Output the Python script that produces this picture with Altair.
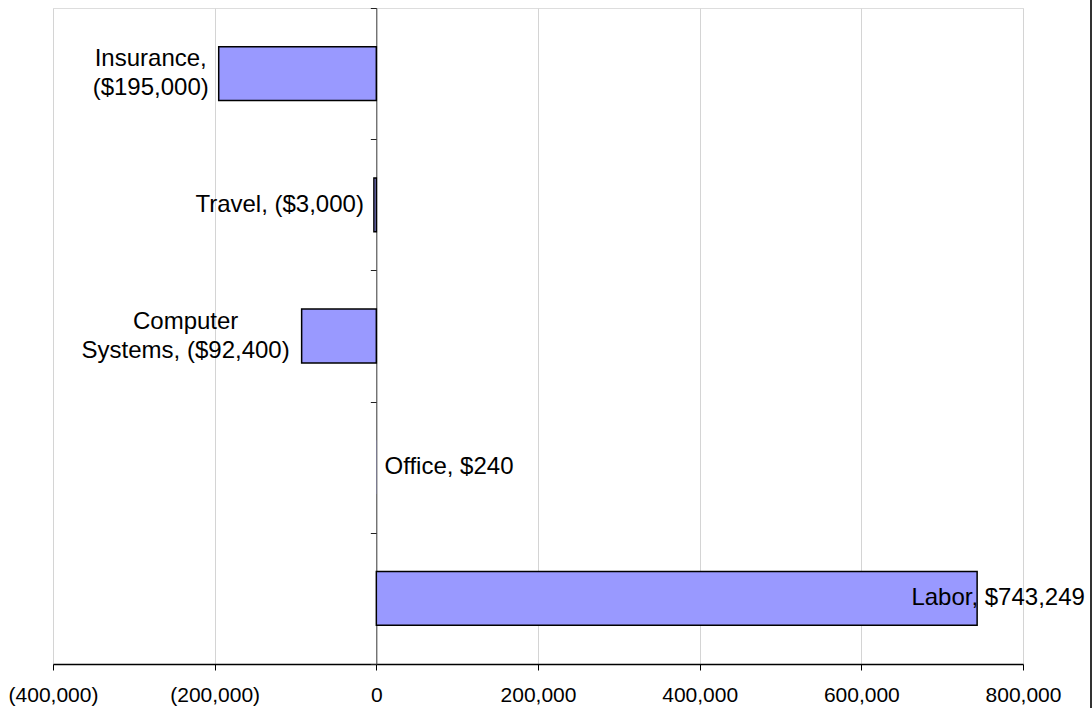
import altair as alt
import pandas as pd

categories = ["Labor", "Office", "Computer Systems", "Travel", "Insurance"]
values = [743249, 240, -92400, -3000, -195000]
labels = ["Labor, $743,249", "Office, $240", "Computer\nSystems, ($92,400)",
          "Travel, ($3,000)", "Insurance,\n($195,000)"]
x_ticks = [-400000, -200000, 0, 200000, 400000, 600000, 800000]

W, H = 970, 656
LEFT, TOP = 53, 8
FONT = "Liberation Sans"

df = pd.DataFrame({"category": categories, "value": values, "label": labels})
order = categories[::-1]

xscale = alt.Scale(domain=[-400000, 800000], nice=False, zero=False)
yscale = alt.Scale(domain=order, paddingInner=0, paddingOuter=0)

x_axis = alt.Axis(
    values=x_ticks,
    labelExpr="datum.value < 0 ? '(' + format(-datum.value, ',') + ')' : format(datum.value, ',')",
    title=None, grid=True, gridColor="#d4d4d4", gridWidth=1,
    domainColor="#000", domainWidth=1.5, tickColor="#000", tickSize=6, tickWidth=1,
    labelFont=FONT, labelFontSize=21, labelColor="#000", labelPadding=14,
    labelFlush=False, labelOverlap=False,
)
y_axis = alt.Axis(
    labels=False, title=None, grid=False, ticks=True, tickSize=6, tickBand="extent",
    domainColor="#444", domainWidth=1, tickColor="#222", tickWidth=1,
    offset=-W / 3,
)

base = alt.Chart(df)

bars = base.mark_bar(
    fill="#9999ff", stroke="#000", strokeWidth=1.5, height=alt.RelativeBandSize(0.41)
).encode(
    x=alt.X("value:Q", scale=xscale, axis=x_axis),
    x2=alt.datum(0),
    y=alt.Y("category:N", scale=yscale, axis=y_axis),
    strokeOpacity=alt.condition("abs(datum.value) < 1000", alt.value(0), alt.value(1)),
)


def label_layer(cat, align, dx, dy=0):
    return base.transform_filter(alt.datum.category == cat).mark_text(
        align=align, baseline="middle", dx=dx, dy=dy, font=FONT, fontSize=24,
        lineBreak="\n", lineHeight=29, color="#000",
    ).encode(
        x=alt.X("value:Q", scale=xscale),
        y=alt.Y("category:N", scale=yscale),
        text="label:N",
    )


texts = [
    label_layer("Insurance", "center", -68, -14.5),
    label_layer("Computer Systems", "center", -116, -14.5),
    label_layer("Travel", "right", -10),
    label_layer("Office", "left", 8),
    label_layer("Labor", "center", 21),
]

border = alt.Chart(pd.DataFrame({"a": [0]})).mark_rule(color="#333", strokeWidth=2).encode(
    x=alt.value(1091 - LEFT), y=alt.value(-10), y2=alt.value(H + 60)
)

chart = alt.layer(bars, *texts, border).properties(
    width=W, height=H,
    autosize=alt.AutoSizeParams(type="none"),
    padding={"left": LEFT, "top": TOP, "right": 1092 - LEFT - W, "bottom": 708 - TOP - H},
).configure_view(stroke="#888", strokeWidth=2).configure(background="white")

chart.save("out.html", embed_options={"renderer": "svg", "actions": False})
